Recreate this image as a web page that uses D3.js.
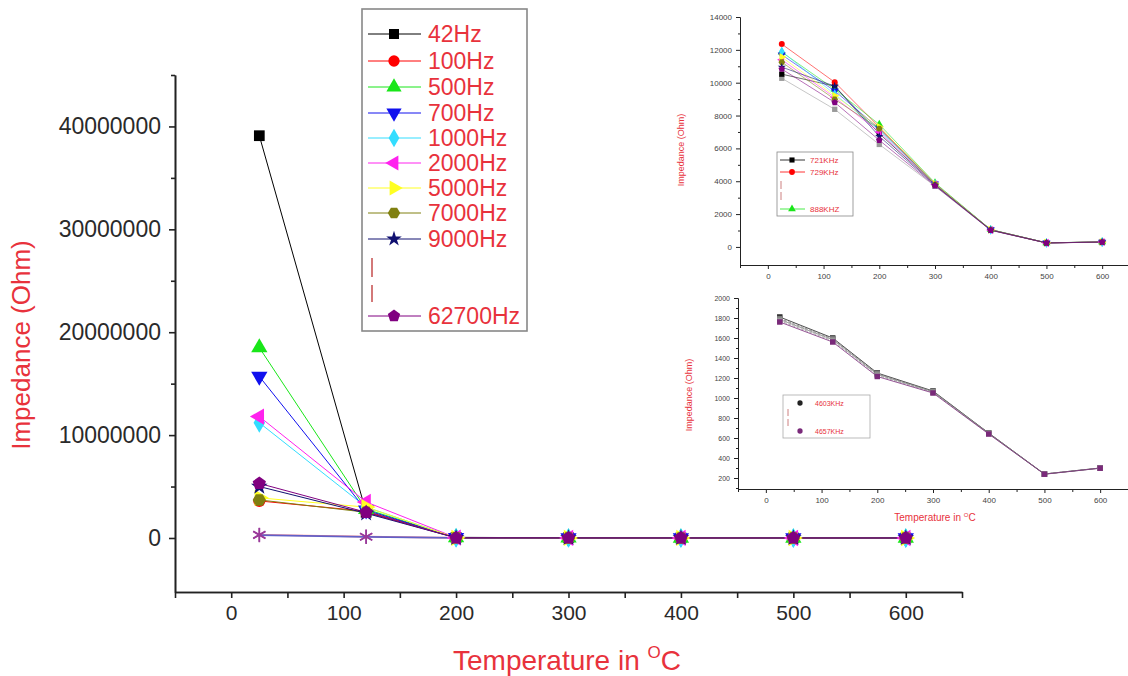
<!DOCTYPE html>
<html><head><meta charset="utf-8">
<script src="https://cdn.jsdelivr.net/npm/d3@7"></script>
<style>
body{margin:0;background:#fff}
text{font-family:"Liberation Sans",Arial,sans-serif}
</style>
</head><body>
<svg id="chart" width="1128" height="676"></svg>
<script>
// ---------------- DATA ----------------
const temps = [25, 120, 200, 300, 400, 500, 600];

// main chart (Ohm)
const mainLabels = ["42Hz","100Hz","500Hz","700Hz","1000Hz","2000Hz","5000Hz","7000Hz","9000Hz","62700Hz"];
const z42    = [39100000, 2500000, 62000, 21000, 5200, 900, 700];
const z100   = [3600000, 2600000, 48000, 16000, 4100, 600, 500];
const z500   = [18500000, 2800000, 40000, 14000, 3600, 450, 420];
const z700   = [15700000, 2700000, 35000, 12000, 3300, 400, 390];
const z1000  = [11200000, 3000000, 30000, 10000, 3000, 380, 370];
const z2000  = [11800000, 3500000, 26000, 9000, 2800, 360, 350];
const z5000  = [3900000, 3000000, 20000, 7000, 2300, 330, 330];
const z7000  = [3700000, 2500000, 17000, 6000, 2000, 310, 320];
const z9000  = [5000000, 2400000, 15000, 5500, 1800, 300, 310];
const z62700 = [5300000, 2500000, 11000, 4500, 1300, 260, 300];
// unlabeled series inside the "|" gap of the legend
const zGapA  = [320000, 130000, 9000, 4000, 1100, 250, 300];
const zGapB  = [280000, 110000, 8500, 3900, 1080, 248, 298];

const mainTicksY = [0, 10000000, 20000000, 30000000, 40000000];
const mainTicksX = [0, 100, 200, 300, 400, 500, 600];

// top inset (Ohm)
const topLegend = ["721KHz", "729KHz", "888KHZ"];
const t1  = [10520, 9790, 6900, 3800, 1040, 250, 300];
const t2  = [12350, 10030, 7300, 3850, 1050, 245, 300];
const t3  = [11860, 9600, 7460, 3900, 1060, 250, 305];
const t4  = [11700, 9500, 7200, 3850, 1050, 250, 300];
const t5  = [11900, 9300, 7100, 3820, 1040, 248, 300];
const t6  = [11400, 9100, 7000, 3800, 1030, 246, 298];
const t7  = [11560, 9200, 7300, 3850, 1045, 250, 302];
const t8  = [11250, 8990, 7200, 3800, 1040, 248, 300];
const t9  = [10950, 9790, 6730, 3760, 1030, 245, 298];
const t10 = [10830, 8800, 6500, 3720, 1020, 243, 296];
const t11 = [10270, 8380, 6240, 3700, 1010, 240, 295];
const topTicksY = [0, 2000, 4000, 6000, 8000, 10000, 12000, 14000];

// bottom inset (Ohm)
const botLegend = ["4603KHz", "4657KHz"];
const b1 = [1810, 1600, 1250, 1070, 650, 240, 300];
const b2 = [1795, 1592, 1243, 1066, 648, 240, 300];
const b3 = [1785, 1583, 1236, 1062, 646, 239, 299];
const b4 = [1772, 1572, 1226, 1056, 644, 238, 298];
const b5 = [1760, 1560, 1215, 1050, 640, 238, 298];
const botTicksY = [200, 400, 600, 800, 1000, 1200, 1400, 1600, 1800, 2000];

// ---------------- STYLES ----------------
const RED = "#e8323c";
const mainStyle = [
  {c:"#000000", s:"square"}, {c:"#ff0000", s:"circle"}, {c:"#19e619", s:"triUp"},
  {c:"#1010ee", s:"triDown"}, {c:"#33ddff", s:"diamond"}, {c:"#ff22ee", s:"triLeft"},
  {c:"#ffff22", s:"triRight"}, {c:"#808010", s:"hexagon"}, {c:"#101070", s:"star"},
  {c:"#800080", s:"pentagon"}
];
const mainValues = [z42,z100,z500,z700,z1000,z2000,z5000,z7000,z9000,z62700];
const gapValues = [zGapA, zGapB];
const gapColors = ["#ff8a8a", "#6060c8"];
const topValues = [t11,t1,t2,t3,t4,t5,t6,t7,t8,t9,t10];
const topStyleIdx = [null,0,1,2,3,4,5,6,7,8,9];
const botValues = [b1,b2,b3,b4,b5];
const botColors = ["#222222","#777777","#888888","#999999","#7a2a7a"];

// ---------------- HELPERS ----------------
const svg = d3.select("#chart");
function polyPath(n, r, rot){
  const pts = d3.range(n).map(i => {
    const a = rot + i*2*Math.PI/n;
    return [r*Math.sin(a), -r*Math.cos(a)];
  });
  return "M" + pts.map(p => p[0].toFixed(2)+","+p[1].toFixed(2)).join("L") + "Z";
}
function symbolPath(shape, area){
  switch(shape){
    case "square": return {d:d3.symbol(d3.symbolSquare, area)(), r:0};
    case "circle": return {d:d3.symbol(d3.symbolCircle, area)(), r:0};
    case "triUp": return {d:d3.symbol(d3.symbolTriangle, area)(), r:0};
    case "triDown": return {d:d3.symbol(d3.symbolTriangle, area)(), r:180};
    case "triLeft": return {d:d3.symbol(d3.symbolTriangle, area)(), r:-90};
    case "triRight": return {d:d3.symbol(d3.symbolTriangle, area)(), r:90};
    case "diamond": return {d:d3.symbol(d3.symbolDiamond, area)(), r:0};
    case "star": return {d:d3.symbol(d3.symbolStar, area*0.75)(), r:0};
    case "hexagon": return {d:polyPath(6, Math.sqrt(area/2.6), Math.PI/6), r:0};
    case "pentagon": return {d:polyPath(5, Math.sqrt(area/2.38), 0), r:0};
    case "asterisk": return {d:d3.symbol(d3.symbolAsterisk, area)(), r:0};
  }
}
function drawMarker(g, x, y, shape, color, area){
  const p = symbolPath(shape, area);
  const el = g.append("path").attr("d", p.d)
    .attr("transform", `translate(${x},${y}) rotate(${p.r})`);
  if(shape === "asterisk") el.attr("fill","none").attr("stroke",color).attr("stroke-width",1.6);
  else el.attr("fill", color);
  return el;
}
function styleAxis(g, fs, col, sw){
  g.select(".domain").attr("stroke","#222").attr("stroke-width",sw);
  g.selectAll(".tick line").attr("stroke","#222").attr("stroke-width",sw);
  g.selectAll(".tick text").attr("font-size",fs).attr("fill",col)
    .attr("font-family",'"Liberation Sans",Arial,sans-serif');
}

// ---------------- MAIN CHART ----------------
const x = d3.scaleLinear().domain([-50, 650]).range([175, 962]);
const y = d3.scaleLinear().domain([-5250000, 45000000]).range([592, 75]);

const gm = svg.append("g");
// axes
const yMinor = d3.range(5000000, 45000001, 10000000);
gm.append("g").attr("transform","translate(175,0)")
  .call(d3.axisLeft(y).tickValues(yMinor).tickFormat("").tickSize(4).tickSizeOuter(0))
  .call(g => styleAxis(g, 0, "#333", 1.6));
gm.append("g").attr("transform","translate(175,0)")
  .call(d3.axisLeft(y).tickValues(mainTicksY).tickFormat(d3.format("d")).tickSize(6).tickPadding(8).tickSizeOuter(0))
  .call(g => styleAxis(g, 23, "#2a2a2a", 1.6));
const xMinor = d3.range(-50, 651, 50).filter(v => v % 100 !== 0);
gm.append("g").attr("transform","translate(0,592)")
  .call(d3.axisBottom(x).tickValues(xMinor).tickFormat("").tickSize(6).tickSizeOuter(0))
  .call(g => styleAxis(g, 0, "#333", 1.6));
gm.append("g").attr("transform","translate(0,592)")
  .call(d3.axisBottom(x).tickValues(mainTicksX).tickFormat(d3.format("d")).tickSize(6).tickPadding(7).tickSizeOuter(0))
  .call(g => styleAxis(g, 21, "#2a2a2a", 1.6));

// titles
gm.append("text").attr("transform","translate(30,345) rotate(-90)")
  .attr("text-anchor","middle").attr("font-size",26).attr("fill",RED).text("Impedance (Ohm)");
const xt = gm.append("text").attr("x",567).attr("y",670).attr("text-anchor","middle")
  .attr("font-size",28).attr("fill",RED);
xt.append("tspan").text("Temperature in ");
xt.append("tspan").attr("dy",-12).attr("font-size",17).text("O");
xt.append("tspan").attr("dy",12).text("C");

// lines
const line = d3.line().x((d,i) => x(temps[i])).y(d => y(d));
gapValues.forEach((vals, k) => {
  gm.append("path").attr("d", line(vals)).attr("fill","none")
    .attr("stroke", gapColors[k]).attr("stroke-width", 1.6);
});
mainValues.forEach((vals, k) => {
  gm.append("path").attr("d", line(vals)).attr("fill","none")
    .attr("stroke", mainStyle[k].c).attr("stroke-width", 1);
});
// markers
gapValues.forEach((vals) => {
  vals.forEach((v,i) => drawMarker(gm, x(temps[i]), y(v), "asterisk", "#9a3a9a", 140));
});
mainValues.forEach((vals, k) => {
  vals.forEach((v,i) => drawMarker(gm, x(temps[i]), y(v), mainStyle[k].s, mainStyle[k].c, 115));
});

// legend
const lg = svg.append("g");
lg.append("rect").attr("x",362).attr("y",9).attr("width",165).attr("height",322)
  .attr("fill","#fff").attr("stroke","#888").attr("stroke-width",1.6);
const legRows = [34,61,87,113,138,163,188,213,239];
mainLabels.forEach((lab, k) => {
  const yy = k < 9 ? legRows[k] : 316;
  lg.append("line").attr("x1",368).attr("x2",421).attr("y1",yy).attr("y2",yy)
    .attr("stroke", mainStyle[k].c).attr("stroke-width",1);
  drawMarker(lg, 394, yy, mainStyle[k].s, mainStyle[k].c, 100);
  lg.append("text").attr("x",428).attr("y",yy+8).attr("font-size",23).attr("fill",RED).text(lab);
});
[[258,277],[285,302]].forEach(s => lg.append("line").attr("x1",372).attr("x2",372)
  .attr("y1",s[0]).attr("y2",s[1]).attr("stroke","#c04040").attr("stroke-width",1.4));

// ---------------- TOP INSET ----------------
const x1 = d3.scaleLinear().domain([-50, 650]).range([740, 1130]);
const y1 = d3.scaleLinear().domain([-1100, 14000]).range([265, 17]);
const g1 = svg.append("g");
g1.append("g").attr("transform","translate(740,0)")
  .call(d3.axisLeft(y1).tickValues(d3.range(1000, 14000, 2000)).tickFormat("").tickSize(2).tickSizeOuter(0))
  .call(g => styleAxis(g, 0, "#444", 1));
g1.append("g").attr("transform","translate(740,0)")
  .call(d3.axisLeft(y1).tickValues(topTicksY).tickFormat(d3.format("d")).tickSize(4).tickPadding(4).tickSizeOuter(0))
  .call(g => styleAxis(g, 8, "#444", 1));
g1.append("g").attr("transform","translate(0,265)")
  .call(d3.axisBottom(x1).tickValues(d3.range(-50, 651, 100)).tickFormat("").tickSize(3).tickSizeOuter(0))
  .call(g => styleAxis(g, 0, "#444", 1));
g1.append("g").attr("transform","translate(0,265)")
  .call(d3.axisBottom(x1).tickValues(mainTicksX).tickFormat(d3.format("d")).tickSize(4).tickPadding(4).tickSizeOuter(0))
  .call(g => styleAxis(g, 8, "#444", 1));
g1.append("text").attr("transform","translate(684,150) rotate(-90)").attr("text-anchor","middle")
  .attr("font-size",9).attr("fill",RED).text("Impedance (Ohm)");
const line1 = d3.line().x((d,i) => x1(temps[i])).y(d => y1(d));
topValues.forEach((vals, k) => {
  const st = topStyleIdx[k] === null ? {c:"#999999"} : mainStyle[topStyleIdx[k]];
  g1.append("path").attr("d", line1(vals)).attr("fill","none")
    .attr("stroke", st.c).attr("stroke-opacity",0.7).attr("stroke-width",0.8);
});
topValues.forEach((vals, k) => {
  const st = topStyleIdx[k] === null ? {c:"#999999", s:"square"} : mainStyle[topStyleIdx[k]];
  vals.forEach((v,i) => drawMarker(g1, x1(temps[i]), y1(v), st.s, st.c, 28));
});
// top inset legend
g1.append("rect").attr("x",777).attr("y",152).attr("width",76).attr("height",64)
  .attr("fill","#fff").attr("stroke","#888").attr("stroke-width",0.8);
[[160,0],[172,1],[209,2]].forEach((r, j) => {
  const st = mainStyle[r[1]];
  g1.append("line").attr("x1",780).attr("x2",805).attr("y1",r[0]).attr("y2",r[0])
    .attr("stroke",st.c).attr("stroke-width",0.8);
  drawMarker(g1, 792, r[0], st.s, st.c, 26);
  g1.append("text").attr("x",810).attr("y",r[0]+3).attr("font-size",8).attr("fill",RED).text(topLegend[j]);
});
[[181,189],[192,200]].forEach(s => g1.append("line").attr("x1",781).attr("x2",781)
  .attr("y1",s[0]).attr("y2",s[1]).attr("stroke","#c06060").attr("stroke-width",0.8));

// ---------------- BOTTOM INSET ----------------
const x2 = d3.scaleLinear().domain([-50, 650]).range([738, 1128]);
const y2 = d3.scaleLinear().domain([90, 2000]).range([489, 298]);
const g2 = svg.append("g");
g2.append("g").attr("transform","translate(738,0)")
  .call(d3.axisLeft(y2).tickValues(d3.range(100, 2000, 200)).tickFormat("").tickSize(2).tickSizeOuter(0))
  .call(g => styleAxis(g, 0, "#444", 1));
g2.append("g").attr("transform","translate(738,0)")
  .call(d3.axisLeft(y2).tickValues(botTicksY).tickFormat(d3.format("d")).tickSize(4).tickPadding(4).tickSizeOuter(0))
  .call(g => styleAxis(g, 7, "#444", 1));
g2.append("g").attr("transform","translate(0,489)")
  .call(d3.axisBottom(x2).tickValues(d3.range(-50, 651, 100)).tickFormat("").tickSize(3).tickSizeOuter(0))
  .call(g => styleAxis(g, 0, "#444", 1));
g2.append("g").attr("transform","translate(0,489)")
  .call(d3.axisBottom(x2).tickValues(mainTicksX).tickFormat(d3.format("d")).tickSize(4).tickPadding(4).tickSizeOuter(0))
  .call(g => styleAxis(g, 8, "#444", 1));
g2.append("text").attr("transform","translate(692,395) rotate(-90)").attr("text-anchor","middle")
  .attr("font-size",9).attr("fill",RED).text("Impedance (Ohm)");
const xt2 = g2.append("text").attr("x",935).attr("y",521).attr("text-anchor","middle")
  .attr("font-size",10).attr("fill",RED);
xt2.append("tspan").text("Temperature in ");
xt2.append("tspan").attr("dy",-4).attr("font-size",6).text("O");
xt2.append("tspan").attr("dy",4).text("C");
const line2 = d3.line().x((d,i) => x2(temps[i])).y(d => y2(d));
botValues.forEach((vals, k) => {
  g2.append("path").attr("d", line2(vals)).attr("fill","none")
    .attr("stroke", botColors[k]).attr("stroke-opacity",0.8).attr("stroke-width",1)
    .attr("stroke-dasharray", k % 2 ? "3,1.5" : null);
});
botValues.forEach((vals, k) => {
  vals.forEach((v,i) => drawMarker(g2, x2(temps[i]), y2(v), "square", botColors[k], 30));
});
g2.append("rect").attr("x",783).attr("y",395).attr("width",87).attr("height",43)
  .attr("fill","#fff").attr("stroke","#aaa").attr("stroke-width",0.8);
[[403,0],[431,4]].forEach((r, j) => {
  drawMarker(g2, 800, r[0], "circle", botColors[r[1]], 22);
  g2.append("text").attr("x",815).attr("y",r[0]+3).attr("font-size",7).attr("fill",RED).text(botLegend[j]);
});
[[409,416],[419,426]].forEach(s => g2.append("line").attr("x1",788).attr("x2",788)
  .attr("y1",s[0]).attr("y2",s[1]).attr("stroke","#c06060").attr("stroke-width",0.8));
</script>
</body></html>
